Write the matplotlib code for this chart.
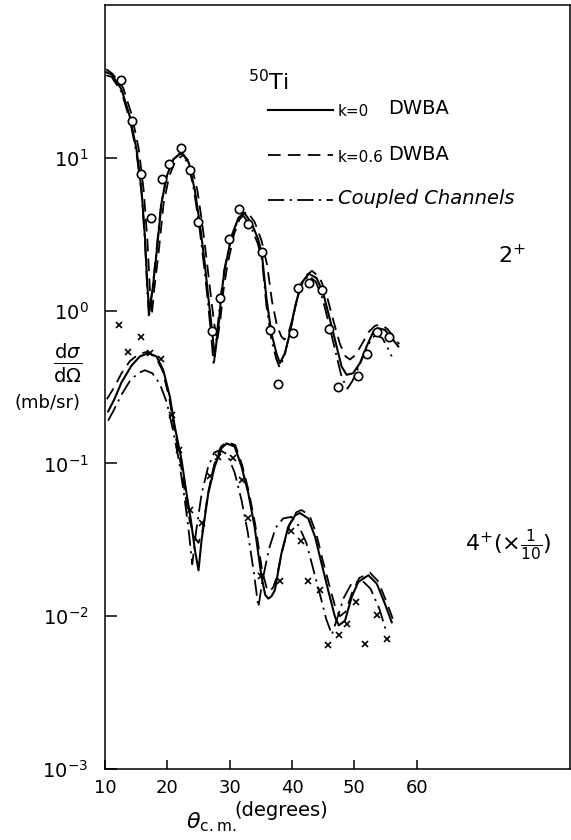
# -*- coding: utf-8 -*-
"""
50Ti angular distributions, 2+ and 4+ (x 1/10)
curves read off a scanned figure, values kept as log10(mb/sr)
"""
import numpy as np
import matplotlib
matplotlib.use('Agg')
import matplotlib.pyplot as plt
from matplotlib.lines import Line2D

# ---- 2+ state ----
x2_solid = [10.2, 11.05, 12.65, 13.98, 15.06, 15.86, 16.4, 16.8, 17.1, 17.7, 18.27, 19.07,
            19.9, 20.95, 22.28, 23.45, 24.4, 25.2, 26.0, 26.56, 27.1, 27.6, 28.2, 28.7,
            29.2, 30.3, 31.4, 32.34, 33.5, 34.6, 35.2, 35.9, 36.7, 37.5, 38.05, 38.86,
            39.66, 40.5, 41.5, 42.7, 43.95, 45.0, 46.1, 47.16, 47.96, 48.76, 49.8, 50.9,
            51.97, 53.05, 53.74, 54.9, 56.0, 57.06]
y2_solid = [1.56, 1.546, 1.448, 1.27, 1.054, 0.79, 0.487, 0.16, -0.01, 0.16, 0.377, 0.705,
            0.88, 0.989, 1.037, 0.967, 0.79, 0.574, 0.311, 0.093, -0.104, -0.30, -0.104, 0.115,
            0.268, 0.487, 0.607, 0.639, 0.574, 0.464, 0.36, 0.08, -0.148, -0.279, -0.344, -0.279,
            -0.148, 0.027, 0.18, 0.241, 0.213, 0.115, -0.06, -0.235, -0.366, -0.42, -0.41, -0.344,
            -0.235, -0.137, -0.115, -0.126, -0.18, -0.235]

x2_dash = [10.2, 11.2, 12.9, 14.3, 15.4, 16.2, 16.8, 17.2, 17.5, 17.9, 18.6, 19.4, 20.3,
           21.3, 22.6, 23.8, 24.8, 25.6, 26.4, 27.0, 27.5, 28.0, 28.5, 29.0, 29.6, 30.7,
           31.8, 32.8, 34.0, 35.1, 36.0, 36.8, 37.6, 38.3, 38.8, 39.4, 40.2, 41.0, 42.0,
           43.2, 44.4, 45.5, 46.6, 47.7, 48.6, 49.3, 50.2, 51.2, 52.3, 53.3, 54.2, 55.3,
           56.3, 57.2]
y2_dash = [1.58, 1.55, 1.46, 1.28, 1.06, 0.79, 0.46, 0.14, -0.03, 0.14, 0.38, 0.70, 0.88,
           0.98, 1.02, 0.96, 0.79, 0.57, 0.30, 0.09, -0.08, -0.20, -0.06, 0.13, 0.29, 0.50,
           0.62, 0.65, 0.58, 0.46, 0.30, 0.06, -0.10, -0.17, -0.19, -0.15, -0.04, 0.11, 0.22,
           0.26, 0.22, 0.11, -0.06, -0.22, -0.30, -0.32, -0.29, -0.22, -0.14, -0.10, -0.09, -0.12,
           -0.17, -0.22]

x2_cc = [10.2, 11.05, 12.65, 13.98, 15.06, 15.86, 16.4, 16.8, 17.05, 17.6, 18.2, 19.0, 19.9,
         20.95, 22.2, 23.4, 24.3, 25.1, 25.9, 26.5, 27.0, 27.45, 28.0, 28.6, 29.1, 30.2,
         31.3, 32.2, 33.4, 34.5, 35.2, 35.9, 36.7, 37.5, 38.0, 38.7, 39.5, 40.4, 41.4,
         42.6, 43.8, 44.9, 46.0, 47.1, 48.0, 48.9, 49.7, 50.7, 51.8, 52.8, 53.5, 54.5,
         55.3, 56.0]
y2_cc = [1.54, 1.53, 1.43, 1.25, 1.03, 0.77, 0.46, 0.12, -0.05, 0.14, 0.37, 0.70, 0.88,
         0.99, 1.03, 0.96, 0.78, 0.56, 0.29, 0.06, -0.15, -0.36, -0.13, 0.10, 0.26, 0.47,
         0.59, 0.62, 0.55, 0.44, 0.33, 0.03, -0.19, -0.32, -0.37, -0.31, -0.17, 0.01, 0.16,
         0.23, 0.19, 0.08, -0.10, -0.29, -0.44, -0.51, -0.46, -0.37, -0.26, -0.18, -0.16, -0.18,
         -0.24, -0.30]

x2_data = [12.5, 14.3, 15.7, 17.3, 19.1, 20.3, 22.2, 23.7, 25.0, 27.1, 28.5, 29.9, 31.5,
           33.0, 35.2, 36.5, 37.8, 40.1, 41.0, 42.7, 44.75, 45.9, 47.3, 50.6, 52.1, 53.7, 55.6]
y2_data = [1.51, 1.238, 0.897, 0.605, 0.864, 0.961, 1.061, 0.923, 0.578, -0.134, 0.082, 0.471,
           0.666, 0.567, 0.384, -0.126, -0.48, -0.148, 0.15, 0.18, 0.136, -0.121, -0.497,
           -0.425, -0.283, -0.141, -0.17]

# ---- 4+ state (x 1/10) ----
x4_solid = [10.5, 11.5, 12.65, 14.25, 15.6, 16.9, 18.27, 19.34, 20.4, 21.2, 22.28, 23.08,
            23.78, 24.4, 25.0, 25.5, 26.56, 27.6, 28.7, 29.5, 30.8, 31.9, 33.0, 34.0, 35.1,
            35.7, 36.2, 36.7, 37.25, 38.3, 39.4, 40.5, 41.27, 42.6, 43.7, 44.75, 45.8, 46.9,
            47.5, 48.5, 49.57, 50.64, 52.25, 53.6, 54.9, 56.0]
y4_solid = [-0.66, -0.58, -0.47, -0.36, -0.30, -0.279, -0.30, -0.388, -0.563, -0.76, -0.978,
            -1.197, -1.372, -1.56, -1.70, -1.50, -1.197, -1.02, -0.90, -0.869, -0.89, -1.02,
            -1.197, -1.415, -1.74, -1.86, -1.885, -1.87, -1.83, -1.59, -1.415, -1.34, -1.325,
            -1.36, -1.48, -1.656, -1.83, -2.005, -2.06, -2.03, -1.875, -1.776, -1.732, -1.787,
            -1.918, -2.04]

x4_dash = [10.3, 11.5, 12.65, 14.0, 15.4, 16.7, 18.1, 19.2, 20.3, 21.1, 22.1, 22.9, 23.6,
           24.3, 25.0, 25.6, 26.5, 27.5, 28.6, 29.6, 30.9, 32.0, 33.1, 34.1, 35.2, 35.9,
           36.4, 37.0, 37.5, 38.5, 39.6, 40.7, 41.5, 42.8, 43.9, 44.9, 46.0, 47.0, 47.7,
           48.6, 49.7, 50.8, 52.5, 53.8, 55.1, 56.2]
y4_dash = [-0.58, -0.50, -0.41, -0.33, -0.285, -0.27, -0.30, -0.39, -0.57, -0.77, -0.99,
           -1.21, -1.38, -1.48, -1.52, -1.45, -1.20, -1.01, -0.89, -0.86, -0.88, -1.01, -1.19,
           -1.40, -1.70, -1.81, -1.84, -1.81, -1.75, -1.56, -1.40, -1.32, -1.305, -1.34,
           -1.46, -1.63, -1.80, -1.95, -2.00, -1.97, -1.84, -1.75, -1.715, -1.77, -1.90, -2.02]

x4_cc = [10.5, 11.3, 12.65, 14.0, 15.3, 16.4, 17.6, 18.8, 19.9, 20.9, 21.9, 22.7, 23.4,
         24.0, 24.6, 25.5, 26.5, 27.5, 28.4, 29.6, 30.8, 31.9, 32.9, 33.9, 34.6, 35.3,
         36.3, 37.4, 38.6, 39.9, 41.1, 42.3, 43.4, 44.5, 45.5, 46.4, 47.2, 48.3, 49.5,
         51.2, 52.6, 54.0, 55.2]
y4_cc = [-0.72, -0.66, -0.55, -0.46, -0.41, -0.39, -0.41, -0.48, -0.60, -0.78, -0.99,
         -1.21, -1.43, -1.66, -1.45, -1.20, -1.03, -0.93, -0.913, -0.94, -1.06, -1.24, -1.45,
         -1.72, -1.94, -1.76, -1.56, -1.42, -1.36, -1.35, -1.41, -1.52, -1.69, -1.86, -2.02,
         -2.12, -2.02, -1.88, -1.79, -1.765, -1.82, -1.95, -2.11]

x4_data = [12.2, 13.7, 15.7, 17.2, 19.0, 20.8, 21.9, 23.6, 25.5, 26.8, 28.2, 30.6, 31.9,
           33.0, 35.1, 38.1, 39.9, 41.5, 42.6, 44.5, 45.8, 47.5, 48.8, 50.2, 51.7, 53.6, 55.2]
y4_data = [-0.093, -0.274, -0.17, -0.279, -0.32, -0.683, -0.913, -1.306, -1.39, -1.083,
           -0.956, -0.967, -1.11, -1.36, -1.74, -1.77, -1.44, -1.51, -1.77, -1.83, -2.19,
           -2.12, -2.05, -1.91, -2.18, -1.99, -2.15]

xticks = [10, 20, 30, 40, 50, 60]
ydecades = [-3, -2, -1, 0, 1]

W, H = 571, 840


def fx(px):
    return px / W


def fy(py):
    return 1 - py / H


fig = plt.figure(figsize=(W / 100, H / 100), dpi=100)
ax = fig.add_axes([fx(105), fy(769), fx(570) - fx(105), fy(5) - fy(769)])
ax.set_yscale('log')
ax.set_xlim(10, 84.6)
ax.set_ylim(1e-3, 10 ** 2.0)

lw = 1.3
dash = (7, 4)
dashdot = (9, 3, 1.2, 3)

for xs, ys, ls in [(x2_solid, y2_solid, None), (x2_dash, y2_dash, dash), (x2_cc, y2_cc, dashdot),
                   (x4_solid, y4_solid, None), (x4_dash, y4_dash, dash), (x4_cc, y4_cc, dashdot)]:
    line, = ax.plot(xs, np.power(10.0, ys), color='black', lw=lw if ls else 1.5)
    if ls:
        line.set_dashes(ls)

ax.plot(x2_data, np.power(10.0, y2_data), 'o', mfc='white', mec='black', ms=6, mew=1.2)
ax.plot(x4_data, np.power(10.0, y4_data), 'x', color='black', ms=5, mew=1.2)

# axes
for s in ax.spines.values():
    s.set_linewidth(1.1)
ax.set_xticks(xticks)
ax.set_xticklabels([str(v) for v in xticks], fontsize=13)
ax.set_yticks([10.0 ** d for d in ydecades])
ax.set_yticklabels([r'$10^{%d}$' % d for d in ydecades], fontsize=14)
ax.minorticks_off()
ax.tick_params(axis='x', direction='in', length=6.5, width=1.1, pad=7)
ax.tick_params(axis='y', direction='in', length=8.5, width=1.1, pad=12)

# axis titles
fig.text(fx(68), fy(363), r'$\frac{\mathrm{d}\sigma}{\mathrm{d}\Omega}$', fontsize=20,
         ha='center', va='center')
fig.text(fx(48), fy(403), '(mb/sr)', fontsize=13, ha='center', va='center')
fig.text(fx(186), fy(822), r'$\theta_{\mathrm{c.m.}}$', fontsize=16, ha='left', va='center')
fig.text(fx(234), fy(811), '(degrees)', fontsize=14, ha='left', va='center')

# labels inside
fig.text(fx(248), fy(82), r'$^{50}$Ti', fontsize=16, ha='left', va='center')
fig.text(fx(498), fy(255), r'$2^{+}$', fontsize=16, ha='left', va='center')
fig.text(fx(465), fy(545), r'$4^{+}(\times\frac{1}{10})$', fontsize=16, ha='left', va='center')

# legend drawn by hand
leg = [(110, None, 'k=0', 'DWBA'), (155, dash, 'k=0.6', 'DWBA'), (200, dashdot, None, 'Coupled Channels')]
for py, ls, small, big in leg:
    ln = Line2D([fx(268), fx(333)], [fy(py), fy(py)], transform=fig.transFigure,
                color='black', lw=lw if ls else 1.5)
    if ls:
        ln.set_dashes(ls)
    fig.add_artist(ln)
    if small:
        fig.text(fx(338), fy(py + 2), small, fontsize=11, ha='left', va='center')
        fig.text(fx(388), fy(py - 1), big, fontsize=14, ha='left', va='center')
    else:
        fig.text(fx(338), fy(py - 2), big, fontsize=14, style='italic', ha='left', va='center')

fig.savefig('out.png', dpi=100)
